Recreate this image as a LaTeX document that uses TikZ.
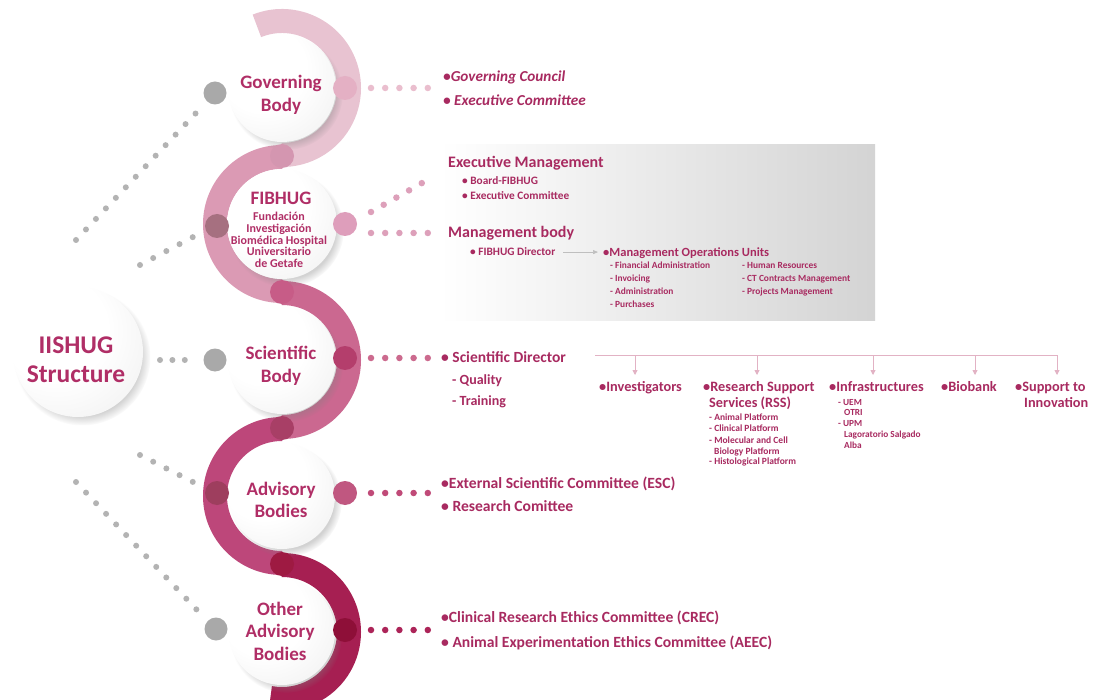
\documentclass[tikz,border=0pt]{standalone}
\usepackage{fontspec}
\setmainfont{Carlito}
\usetikzlibrary{arrows.meta,shadows}
\definecolor{crim}{HTML}{A82A60}
\definecolor{crimc}{HTML}{B02E66}
\definecolor{bandA}{HTML}{E8C3D1}
\definecolor{bandB}{HTML}{DB9AB4}
\definecolor{bandC}{HTML}{CB6890}
\definecolor{bandD}{HTML}{BD477A}
\definecolor{bandE}{HTML}{A61F52}
\definecolor{gbig}{HTML}{A9A9A9}
\definecolor{gsmall}{HTML}{B3B3B3}
\definecolor{dGovR}{RGB}{228,176,196}
\definecolor{dFibT}{RGB}{212,150,176}
\definecolor{dFibL}{RGB}{166,112,128}
\definecolor{dFibR}{RGB}{222,158,187}
\definecolor{dFibB}{RGB}{199,92,135}
\definecolor{dSciR}{RGB}{180,62,108}
\definecolor{dAdvT}{RGB}{168,63,102}
\definecolor{dAdvL}{RGB}{158,62,94}
\definecolor{dAdvR}{RGB}{192,87,128}
\definecolor{dAdvB}{RGB}{158,26,66}
\definecolor{dOthR}{RGB}{142,15,56}
\definecolor{pGov}{RGB}{234,190,206}
\definecolor{pFib}{RGB}{221,160,186}
\definecolor{pSci}{RGB}{204,106,142}
\definecolor{pAdv}{RGB}{192,74,120}
\definecolor{pOth}{RGB}{172,36,88}
\definecolor{pline}{RGB}{226,178,196}
\pgfdeclareradialshading{discshade}{\pgfpoint{-12bp}{12bp}}{color(0bp)=(white); color(20bp)=(white); color(42bp)=(gray!12); color(60bp)=(gray!26); color(75bp)=(gray!32)}
\begin{document}
\begin{tikzpicture}[x=1pt,y=-1pt,
  band/.style={line width=24pt, line cap=butt},
  disc/.style={circle, shading=discshade, draw=none, inner sep=0pt,
    circular drop shadow={shadow xshift=4pt, shadow yshift=-5pt, shadow scale=1.05, opacity=.35}},
  bdot/.style={circle, minimum size=24pt, inner sep=0pt, fill=#1},
  gdot/.style={circle, minimum size=23pt, inner sep=0pt, fill=gbig},
  dline/.style={line width=6.5pt, line cap=round, dash pattern=on 0pt off #1},
  txt/.style={anchor=base west, inner sep=0pt, text=crim, font=\bfseries\fontsize{#1}{#1}\selectfont},
  itxt/.style={anchor=base west, inner sep=0pt, text=crim, font=\bfseries\itshape\fontsize{#1}{#1}\selectfont},
  clab/.style={align=center, inner sep=0pt, text=crimc, font=\bfseries\fontsize{19}{22.5}\selectfont},
  parr/.style={draw=pline, line width=0.9pt, -{Triangle[length=5pt,width=5pt]}},
  garr/.style={draw=gray!50, line width=0.7pt, -{Triangle[length=5pt,width=4pt]}}
]
\useasboundingbox (0,0) rectangle (1094,700);
\fill[white] (0,0) rectangle (1094,700);

% grey box
\shade[left color=white, middle color=black!7, right color=black!17] (440,145) rectangle (875,321);

% ribbon
\draw[band, bandA] (282,88) ++(-112:67) arc[start angle=-112, end angle=90, radius=67];
\draw[band, bandB] (282,224) ++(270:67) arc[start angle=270, end angle=90, radius=67];
\draw[band, bandC] (282,360) ++(-90:67) arc[start angle=-90, end angle=90, radius=67];
\draw[band, bandD] (282,496) ++(270:67) arc[start angle=270, end angle=90, radius=67];
\draw[band, bandE] (282,632) ++(-90:67) arc[start angle=-90, end angle=100, radius=67];

% circles
\node[disc, minimum size=130pt] (iis) at (78,352) {};
\node[disc, minimum size=108pt] (gov) at (282,88) {};
\node[disc, minimum size=110pt] (fib) at (282,224) {};
\node[disc, minimum size=108pt] (sci) at (282,360) {};
\node[disc, minimum size=106pt] (adv) at (282,496) {};
\node[disc, minimum size=106pt] (oth) at (282,632) {};

% dots on the ribbon
\node[bdot=dGovR] (gov-r) at (345,88) {};
\node[bdot=dFibT] (fib-t) at (282,156) {};
\node[bdot=dFibL] (fib-l) at (217,226) {};
\node[bdot=dFibR] (fib-r) at (345,224) {};
\node[bdot=dFibB] (fib-b) at (282,292) {};
\node[bdot=dSciR] (sci-r) at (345,358) {};
\node[bdot=dAdvT] (adv-t) at (282,428) {};
\node[bdot=dAdvL] (adv-l) at (217,493) {};
\node[bdot=dAdvR] (adv-r) at (345,493) {};
\node[bdot=dAdvB] (adv-b) at (282,564) {};
\node[bdot=dOthR] (oth-r) at (345,630) {};
\node[gdot] (gov-l) at (215,93) {};
\node[gdot] (sci-l) at (215,360) {};
\node[gdot] (oth-l) at (216,629) {};

% circle labels
\node[clab] (govl) at (281,95) {Governing\\Body};
\node[clab, font=\bfseries\fontsize{19}{21}\selectfont] (fibt) at (281,198) {FIBHUG};
\node[align=center, inner sep=0pt, text=crimc, font=\bfseries\fontsize{12}{11.6}\selectfont] (fibs) at (279,240) {Fundación\\Investigación\\Biomédica Hospital\\Universitario\\de Getafe};
\node[clab] (scil) at (281,366) {Scientific\\Body};
\node[clab] (advl) at (281,500) {Advisory\\Bodies};
\node[clab] (othl) at (280,631) {Other\\Advisory\\Bodies};
\node[clab, font=\bfseries\fontsize{25.5}{29}\selectfont] (iisl) at (76,360) {IISHUG\\Structure};

% left dotted connectors
\coordinate (lg1) at (76,240);  \coordinate (lg2) at (196,113);
\coordinate (lf1) at (140,265); \coordinate (lf2) at (193,237);
\coordinate (ls1) at (160,360); \coordinate (ls2) at (185,360);
\coordinate (la1) at (140,455); \coordinate (la2) at (193,482);
\coordinate (lo1) at (76,482);  \coordinate (lo2) at (197,610);
\draw[dline=14.5pt, gsmall, line width=6pt] (lg1) -- (lg2);
\draw[dline=14.9pt, gsmall, line width=6pt] (lf1) -- (lf2);
\draw[dline=12.4pt, gsmall, line width=6pt] (ls1) -- (ls2);
\draw[dline=14.8pt, gsmall, line width=6pt] (la1) -- (la2);
\draw[dline=14.6pt, gsmall, line width=6pt] (lo1) -- (lo2);

% right dotted connectors
\coordinate (rg1) at (371,88);  \coordinate (rg2) at (428,88);
\coordinate (rfd1) at (371,212); \coordinate (rfd2) at (422,183);
\coordinate (rfh1) at (371,233); \coordinate (rfh2) at (428,233);
\coordinate (rs1) at (371,358); \coordinate (rs2) at (428,358);
\coordinate (ra1) at (371,493); \coordinate (ra2) at (428,493);
\coordinate (ro1) at (371,630); \coordinate (ro2) at (428,630);
\draw[dline=14.2pt, pGov] (rg1) -- (rg2);
\draw[dline=14.6pt, pFib] (rfd1) -- (rfd2);
\draw[dline=14.2pt, pFib] (rfh1) -- (rfh2);
\draw[dline=14.2pt, pSci] (rs1) -- (rs2);
\draw[dline=14.2pt, pAdv] (ra1) -- (ra2);
\draw[dline=14.2pt, pOth] (ro1) -- (ro2);

% Governing body texts
\node[itxt=15.2] (gc) at (443,82) {•Governing Council};
\node[itxt=15.2] (gec) at (443,106) {• Executive Committee};

% FIBHUG texts
\node[txt=16] (em) at (448,168) {Executive Management};
\node[txt=11.3] (bf) at (462,185) {• Board-FIBHUG};
\node[txt=11.3] (fec) at (462,200) {• Executive Committee};
\node[txt=16] (mb) at (448,238) {Management body};
\node[txt=11.3] (fdir) at (470,256) {• FIBHUG Director};
\node[txt=12.5] (mou) at (603,257) {•Management Operations Units};
\draw[garr] ([xshift=8pt]fdir.east) -- ([xshift=-5pt]mou.west |- fdir.east);
\node[txt=9.4] (m1) at (610,269) {- Financial Administration};
\node[txt=9.4] (m2) at (610,282) {- Invoicing};
\node[txt=9.4] (m3) at (610,295) {- Administration};
\node[txt=9.4] (m4) at (610,308) {- Purchases};
\node[txt=9.4] (m5) at (742,269) {- Human Resources};
\node[txt=9.4] (m6) at (742,282) {- CT Contracts Management};
\node[txt=9.4] (m7) at (742,295) {- Projects Management};

% Scientific body texts
\node[txt=15.5] (sd) at (441,362) {• Scientific Director};
\node[txt=14] (sq) at (452,384) {- Quality};
\node[txt=14] (st) at (452,405) {- Training};

\coordinate (hl) at (595,355); \coordinate (hr) at (1057,355);
\draw[draw=pline, line width=0.9pt] (hl) -- (hr);
\coordinate (a1) at (635,355); \coordinate (b1) at (635,375);
\coordinate (a2) at (757,355); \coordinate (b2) at (757,375);
\coordinate (a3) at (873,355); \coordinate (b3) at (873,375);
\coordinate (a4) at (975,355); \coordinate (b4) at (975,375);
\coordinate (a5) at (1057,355); \coordinate (b5) at (1057,375);
\draw[parr] (a1) -- (b1);
\draw[parr] (a2) -- (b2);
\draw[parr] (a3) -- (b3);
\draw[parr] (a4) -- (b4);
\draw[parr] (a5) -- (b5);

\node[txt=14.3] (inv) at (599,391) {•Investigators};
\node[txt=14.3] (rss1) at (703,391) {•Research Support};
\node[txt=14.3] (rss2) at (709,407) {Services (RSS)};
\node[txt=9.5] (r1) at (709,420) {- Animal Platform};
\node[txt=9.5] (r2) at (709,431) {- Clinical Platform};
\node[txt=9.5] (r3) at (709,443) {- Molecular and Cell};
\node[txt=9.5] (r4) at (714,454) {Biology Platform};
\node[txt=9.5] (r5) at (709,464) {- Histological Platform};
\node[txt=14.3] (inf) at (829,391) {•Infrastructures};
\node[txt=9.3] (i1) at (838,405) {- UEM};
\node[txt=9.3] (i2) at (844,415) {OTRI};
\node[txt=9.3] (i3) at (838,426) {- UPM};
\node[txt=9.3] (i4) at (844,437) {Lagoratorio Salgado};
\node[txt=9.3] (i5) at (844,448) {Alba};
\node[txt=14.3] (bio) at (941,391) {•Biobank};
\node[txt=14.3] (sup1) at (1015,391) {•Support to};
\node[txt=14.3] (sup2) at (1024,407) {Innovation};

% Advisory texts
\node[txt=15.6] (esc) at (441,488) {•External Scientific Committee (ESC)};
\node[txt=15.6] (rc) at (441,511) {• Research Comittee};
\node[txt=15.6] (crec) at (441,622) {•Clinical Research Ethics Committee (CREC)};
\node[txt=15.6] (aeec) at (441,647) {• Animal Experimentation Ethics Committee (AEEC)};
\end{tikzpicture}
\end{document}
